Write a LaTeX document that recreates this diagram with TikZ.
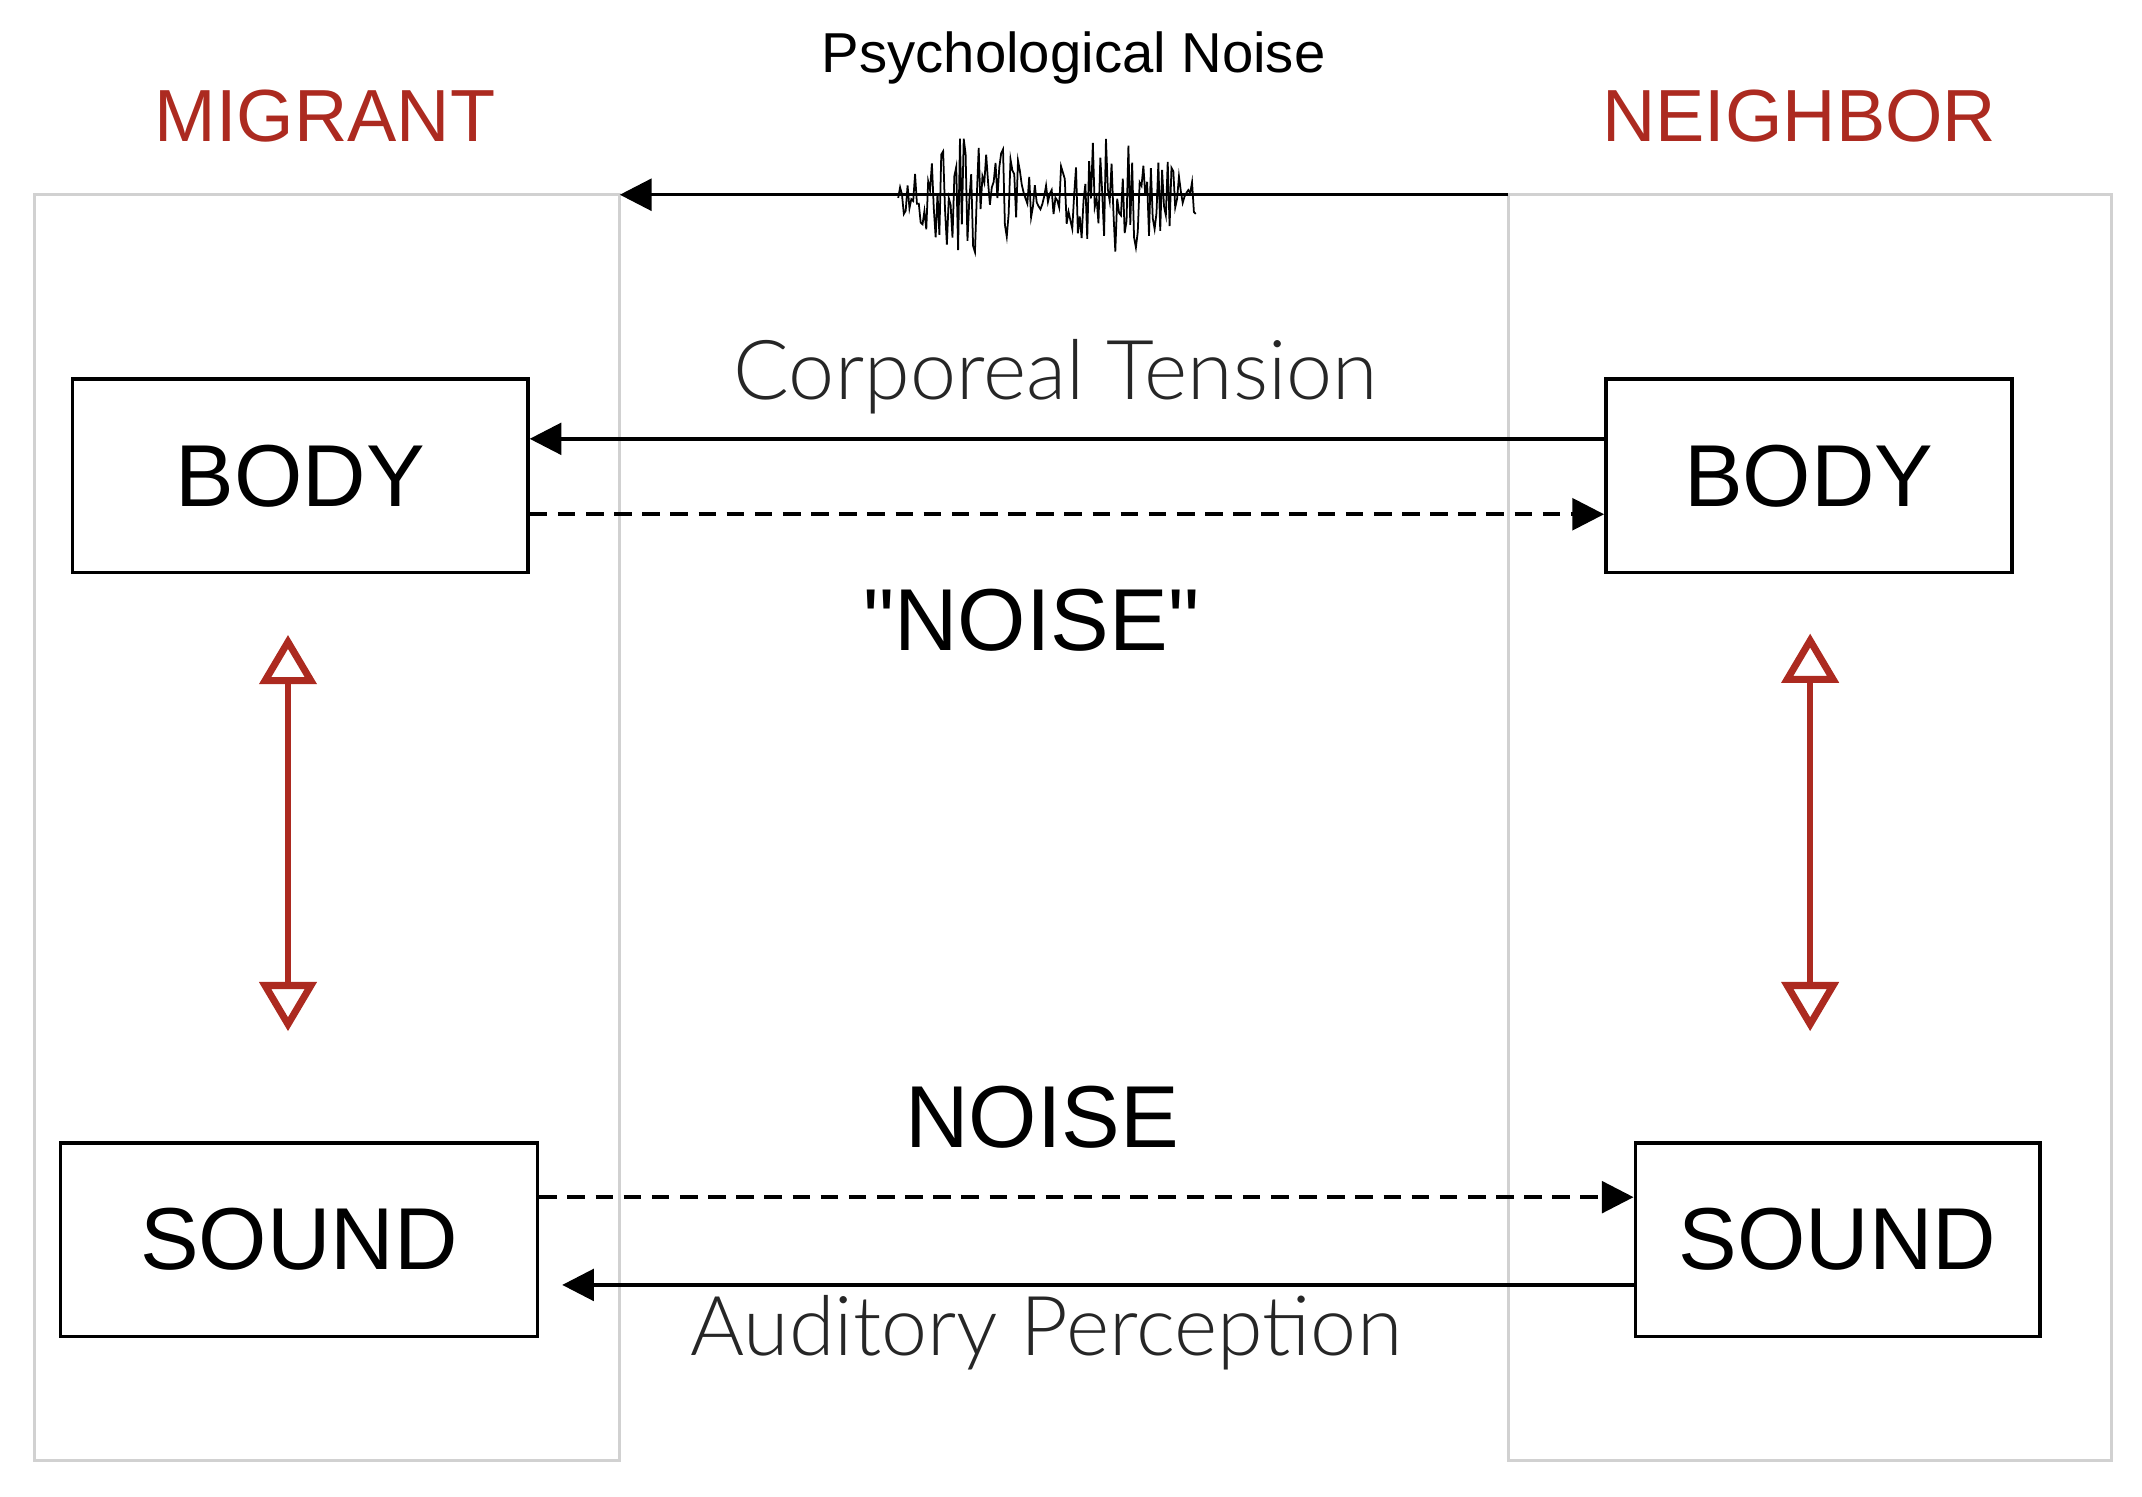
\documentclass[tikz,border=0pt]{standalone}
\usepackage{fontspec}
\setmainfont{Lato Light}
\newfontfamily\boxfont{Liberation Sans}
\usetikzlibrary{arrows.meta}
\definecolor{darkred}{RGB}{172,42,32}
\tikzset{
  panel/.style={draw=black!18, line width=0.8pt},
  box/.style={draw=black, line width=1pt, minimum width=#1, minimum height=141*0.01371cm, font=\boxfont\fontsize{25}{25}\selectfont},
  flow/.style={line width=1pt, -{Triangle[length=9pt,width=9pt]}},
  dflow/.style={flow, dash pattern=on 5pt off 3pt},
  link/.style={darkred, line width=1.6pt, {Triangle[open,length=14pt,width=16pt,line width=2pt]}-{Triangle[open,length=14pt,width=16pt,line width=2pt]}},
  side/.style={darkred, font=\boxfont\fontsize{21}{21}\selectfont},
  label/.style={font=\fontsize{23.5}{23.5}\selectfont\color{black!85}}
}
\begin{document}
\begin{tikzpicture}[x=0.01371cm, y=-0.01371cm]
\useasboundingbox (0,0) rectangle (1562,1091);

% panels
\draw[panel] (25,142) rectangle (452,1065);
\draw[panel] (1100,142) rectangle (1540,1065);
\node[side] (migrant) at (237,85) {MIGRANT};
\node[side] (neighbor) at (1312,85) {NEIGHBOR};

% boxes
\node[box=332*0.01371cm] (bodyL) at (219,347) {BODY};
\node[box=296*0.01371cm] (bodyR) at (1319,347) {BODY};
\node[box=348*0.01371cm] (soundL) at (218,904) {SOUND};
\node[box=295*0.01371cm] (soundR) at (1340,904) {SOUND};

% psychological noise
\node[font=\boxfont\fontsize{16}{16}\selectfont] (psy) at (783,42) {Psychological Noise};
\coordinate (psyR) at (1100,142);
\coordinate (psyL) at (452,142);
\draw[flow] (psyR) -- (psyL);
\pgfmathsetseed{7}
\draw[line width=0.5pt] plot[domain=655:872, samples=160, variable=\t]
  (\t, {142+rand*42*(0.25+0.75*abs(sin((\t-655)*1.7)))});

% body links
\node[label] (tension) at (770,275) {Corporeal Tension};
\draw[flow] (bodyR.west |- 0,320) -- (bodyL.east |- 0,320);
\draw[dflow] (bodyL.east |- 0,375) -- (bodyR.west |- 0,375);
\node[font=\boxfont\fontsize{25}{25}\selectfont] (qnoise) at (752,452) {"NOISE"};

% body-sound links
\coordinate (topL) at (210,463);
\coordinate (botL) at (210,752);
\coordinate (topR) at (1320,462);
\coordinate (botR) at (1320,752);
\draw[link] (topL) -- (botL);
\draw[link] (topR) -- (botR);

% sound links
\node[font=\boxfont\fontsize{25}{25}\selectfont] (noise) at (760,815) {NOISE};
\draw[dflow] (soundL.east |- 0,873) -- (soundR.west |- 0,873);
\coordinate (audL) at (410,937);
\draw[flow] (soundR.west |- 0,937) -- (audL);
\node[label] (auditory) at (763,972) {Auditory Perception};
\end{tikzpicture}
\end{document}
